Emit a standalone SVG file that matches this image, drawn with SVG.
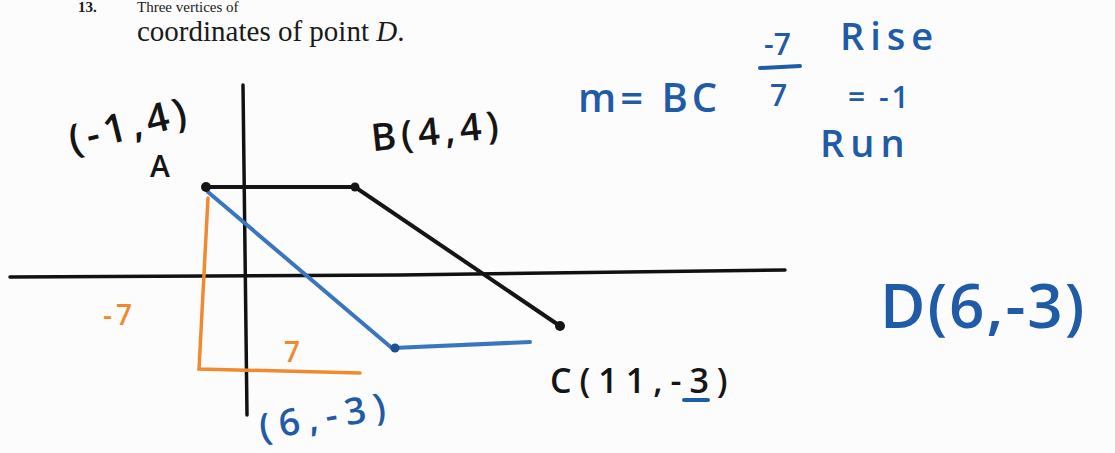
<svg xmlns="http://www.w3.org/2000/svg" width="1115" height="453" viewBox="0 0 1115 453">
<style>
.print{font-family:"Liberation Serif",serif;fill:#1a1a1a}
.hw{font-family:"Open Sans","DejaVu Sans",sans-serif;font-weight:600}
.blk{fill:#151515}
.blu{fill:#1f5ba6}
.org{fill:#f08a30}
.ax{stroke:#111;stroke-width:3.5;fill:none;stroke-linecap:round}
.sb{stroke:#151515;stroke-width:4;fill:none;stroke-linecap:round}
.sbl{stroke:#3a76bd;stroke-width:4;fill:none;stroke-linecap:round}
.so{stroke:#f08a30;stroke-width:3.5;fill:none;stroke-linecap:round}
</style>
<rect width="1115" height="453" fill="#fcfcfc"/>
<!-- printed question text -->
<text class="print" x="78" y="12" font-size="15" font-weight="bold">13.</text>
<text class="print" x="137" y="12" font-size="15">Three vertices of</text>
<text class="print" x="137" y="41" font-size="29">coordinates of point <tspan font-style="italic">D</tspan>.</text>
<!-- axes -->
<g id="axes">
<path class="ax" d="M10 277 L400 275 L785 270"/>
<path class="ax" d="M243 85 L247 415"/>
</g>
<!-- connectors -->
<g id="connectors">
<path class="sb" d="M206 187 L355 187 L560 326"/>
<path class="sbl" d="M208 192 L393 349"/>
<path class="sbl" d="M393 348 L530 342"/>
<path class="so" d="M208 198 L199 369 L360 373"/>
</g>
<!-- points -->
<g id="A"><circle cx="206" cy="187" r="5" class="blk"/></g>
<g id="B"><circle cx="355" cy="187" r="4.5" class="blk"/></g>
<g id="C"><circle cx="560" cy="326" r="5" class="blk"/></g>
<g id="D"><circle cx="395" cy="348" r="4.5" fill="#1d4f96"/></g>
<!-- labels -->
<g id="labels">
<text class="hw blk" x="66" y="140" font-size="40" letter-spacing="5" transform="rotate(-14 125 120)">(-1,4)</text>
<text class="hw blk" x="150" y="177" font-size="30">A</text>
<text class="hw blk" x="370" y="145" font-size="38" letter-spacing="5" transform="rotate(-6 430 125)">B(4,4)</text>
<text class="hw blk" x="550" y="393" font-size="34" letter-spacing="8">C(11,-3)</text>
<path d="M684 400 L708 400" stroke="#1f5ba6" stroke-width="4" stroke-linecap="round"/>
<text class="hw org" x="103" y="325" font-size="28" letter-spacing="4">-7</text>
<text class="hw org" x="284" y="362" font-size="28">7</text>
<text class="hw blu" x="258" y="430" font-size="37" letter-spacing="8" transform="rotate(-10 320 415)">(6,-3)</text>
<text class="hw blu" x="578" y="112" font-size="40" letter-spacing="4">m= BC</text>
<text class="hw blu" x="764" y="55" font-size="30">-7</text>
<path d="M760 68 L800 66" stroke="#1f5ba6" stroke-width="4" stroke-linecap="round"/>
<text class="hw blu" x="770" y="106" font-size="30">7</text>
<text class="hw blu" x="840" y="50" font-size="38" letter-spacing="6">Rise</text>
<text class="hw blu" x="848" y="108" font-size="30" letter-spacing="3">= -1</text>
<text class="hw blu" x="820" y="157" font-size="38" letter-spacing="6">Run</text>
<text class="hw blu" x="880" y="328" font-size="62" letter-spacing="2">D(6,-3)</text>
</g>
</svg>
